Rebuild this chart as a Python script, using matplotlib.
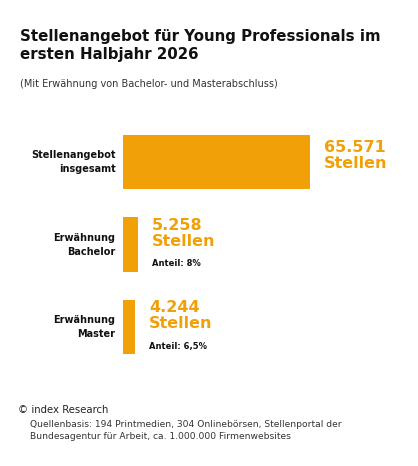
import matplotlib
matplotlib.use("Agg")
import matplotlib.pyplot as plt

categories = ["Stellenangebot\ninsgesamt", "Erwähnung\nBachelor", "Erwähnung\nMaster"]
values = [65571, 5258, 4244]
value_labels = ["65.571\nStellen", "5.258\nStellen", "4.244\nStellen"]
shares = [None, "Anteil: 8%", "Anteil: 6,5%"]

W, H = 418, 466
fig = plt.figure(figsize=(W/100, H/100), dpi=100)
orange = "#F2A007"

ax = fig.add_axes([123/W, 1-354/H, (310-123)/W, (354-135)/H])
ax.set_xlim(0, values[0])
ax.set_ylim(2.33, -0.33)
ax.axis("off")
ypos = [0, 1, 2]
ax.barh(ypos, values, height=0.66, color=orange)

for y, v, cat, lab, sh in zip(ypos, values, categories, value_labels, shares):
    ax.text(-0.04*values[0], y, cat, ha="right", va="center", fontsize=7,
            fontweight="bold", color="#111111", linespacing=1.5)
    ax.annotate(lab, (v, y), xytext=(10, 5 if sh is None else 8), textcoords="offset points",
                ha="left", va="center", fontsize=11.5, fontweight="bold", color=orange,
                linespacing=1.05, annotation_clip=False)
    if sh:
        ax.annotate(sh, (v, y), xytext=(10, -14), textcoords="offset points",
                    ha="left", va="center", fontsize=6, fontweight="bold",
                    color="#111111", annotation_clip=False)

fig.text(20/W, 1-29/H, "Stellenangebot für Young Professionals im\nersten Halbjahr 2026",
         ha="left", va="top", fontsize=10.8, fontweight="bold", color="#111111", linespacing=1.25)
fig.text(20/W, 1-79/H, "(Mit Erwähnung von Bachelor- und Masterabschluss)",
         ha="left", va="top", fontsize=7, color="#333333")
fig.text(18/W, 1-405/H, "© index Research", ha="left", va="top", fontsize=7.3, color="#222222")
fig.text(30/W, 1-420/H, "Quellenbasis: 194 Printmedien, 304 Onlinebörsen, Stellenportal der\n"
         "Bundesagentur für Arbeit, ca. 1.000.000 Firmenwebsites",
         ha="left", va="top", fontsize=6.6, color="#333333", linespacing=1.4)

fig.savefig("out.png", dpi=100, facecolor="white")
